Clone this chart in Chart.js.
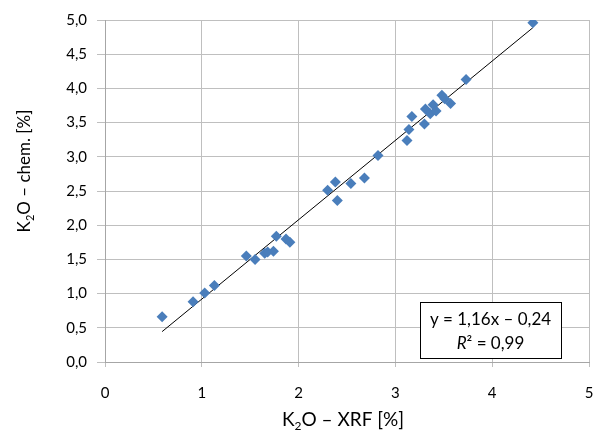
<!DOCTYPE html>
<html>
<head>
<meta charset="utf-8">
<script src="https://cdn.jsdelivr.net/npm/chart.js@4.4.1/dist/chart.umd.min.js"></script>
<style>
html,body{margin:0;padding:0;background:#fff;}
#wrap{width:597px;height:436px;position:relative;}
</style>
</head>
<body>
<div id="wrap"><canvas id="c" width="597" height="436"></canvas></div>
<script>
// ---- data ----
const xrfValues  = [0.59, 0.91, 1.03, 1.13, 1.46, 1.55, 1.65, 1.68, 1.74, 1.77, 1.87, 1.91, 2.30, 2.38, 2.40, 2.54, 2.68, 2.82, 3.12, 3.14, 3.17, 3.30, 3.31, 3.36, 3.39, 3.42, 3.48, 3.51, 3.57, 3.73, 4.42];
const chemValues = [0.66, 0.88, 1.01, 1.12, 1.55, 1.50, 1.59, 1.61, 1.62, 1.84, 1.80, 1.75, 2.51, 2.63, 2.36, 2.61, 2.69, 3.02, 3.24, 3.40, 3.59, 3.48, 3.70, 3.63, 3.76, 3.67, 3.90, 3.85, 3.78, 4.13, 4.96];
const trendSlope = 1.16;
const trendIntercept = -0.24;
const trendX = [0.59, 4.42];
const xTickLabels = ['0', '1', '2', '3', '4', '5'];
const yTickLabels = ['0,0', '0,5', '1,0', '1,5', '2,0', '2,5', '3,0', '3,5', '4,0', '4,5', '5,0'];
const xTitle = ['K', '2', 'O – XRF [%]'];
const yTitle = ['K', '2', 'O – chem. [%]'];
const eqLine1 = 'y = 1,16x – 0,24';
const eqLine2 = ['R', '² = 0,99'];

const FONT = 'Lato, "Open Sans", sans-serif';
const points = xrfValues.map((x, i) => ({x: x, y: chemValues[i]}));
const trend = trendX.map(x => ({x: x, y: trendSlope * x + trendIntercept}));

function drawSubTitle(ctx, parts, size) {
  ctx.font = size + 'px ' + FONT;
  const w0 = ctx.measureText(parts[0]).width;
  ctx.font = Math.round(size * 0.65) + 'px ' + FONT;
  const w1 = ctx.measureText(parts[1]).width;
  ctx.font = size + 'px ' + FONT;
  const w2 = ctx.measureText(parts[2]).width;
  const total = w0 + w1 + w2;
  let x = -total / 2;
  ctx.textBaseline = 'alphabetic';
  ctx.textAlign = 'left';
  ctx.font = size + 'px ' + FONT;
  ctx.fillText(parts[0], x, 0); x += w0;
  ctx.font = Math.round(size * 0.65) + 'px ' + FONT;
  ctx.fillText(parts[1], x, size * 0.22); x += w1;
  ctx.font = size + 'px ' + FONT;
  ctx.fillText(parts[2], x, 0);
}

const extras = {
  id: 'extras',
  afterDraw(chart) {
    const ctx = chart.ctx;
    const area = chart.chartArea;
    ctx.save();
    ctx.fillStyle = '#000';
    // x title
    ctx.save();
    ctx.translate(343, 426);
    drawSubTitle(ctx, xTitle, 19);
    ctx.restore();
    // y title
    ctx.save();
    ctx.translate(30, 171);
    ctx.rotate(-Math.PI / 2);
    drawSubTitle(ctx, yTitle, 17);
    ctx.restore();
    // equation box
    const bx = area.right - 169, by = area.bottom - 60, bw = 141, bh = 56;
    ctx.fillStyle = '#fff';
    ctx.fillRect(bx, by, bw, bh);
    ctx.strokeStyle = '#000';
    ctx.lineWidth = 1;
    ctx.strokeRect(Math.round(bx) + 0.5, Math.round(by) + 0.5, bw, bh);
    ctx.fillStyle = '#000';
    ctx.textBaseline = 'middle';
    ctx.textAlign = 'center';
    ctx.font = '17px ' + FONT;
    const cx = bx + bw / 2;
    ctx.fillText(eqLine1, cx, by + 18);
    ctx.font = 'italic 17px ' + FONT;
    const wR = ctx.measureText(eqLine2[0]).width;
    ctx.font = '17px ' + FONT;
    const wRest = ctx.measureText(eqLine2[1]).width;
    let sx = cx - (wR + wRest) / 2;
    ctx.textAlign = 'left';
    ctx.font = 'italic 17px ' + FONT;
    ctx.fillText(eqLine2[0], sx, by + 42);
    ctx.font = '17px ' + FONT;
    ctx.fillText(eqLine2[1], sx + wR, by + 42);
    ctx.restore();
  }
};

new Chart(document.getElementById('c'), {
  type: 'scatter',
  data: {
    datasets: [
      {
        label: 'K2O',
        data: points,
        pointStyle: 'rectRot',
        pointRadius: 5.5,
        pointHoverRadius: 5.5,
        backgroundColor: '#4a7ebb',
        borderColor: '#4a7ebb',
        borderWidth: 0,
        order: 1
      },
      {
        type: 'line',
        label: 'trend',
        data: trend,
        borderColor: '#000',
        borderWidth: 1,
        pointRadius: 0,
        fill: false,
        order: 2
      }
    ]
  },
  options: {
    responsive: false,
    animation: false,
    layout: {padding: {top: 20, right: 8, left: 0, bottom: 0}},
    plugins: {legend: {display: false}, tooltip: {enabled: false}},
    scales: {
      x: {
        type: 'linear',
        min: 0, max: 5,
        afterFit(s) { s.height = 74; s.paddingLeft = 0; s.paddingRight = 0; },
        ticks: {
          stepSize: 1,
          padding: 17,
          color: '#000',
          font: {family: FONT, size: 15},
          callback: (v, i) => xTickLabels[i]
        },
        grid: {color: '#bfbfbf', tickLength: 5, drawTicks: true},
        border: {color: '#a6a6a6'}
      },
      y: {
        type: 'linear',
        min: 0, max: 5,
        afterFit(s) { s.width = 105; s.paddingTop = 0; s.paddingBottom = 0; },
        ticks: {
          stepSize: 0.5,
          padding: 10,
          color: '#000',
          font: {family: FONT, size: 15},
          callback: (v, i) => yTickLabels[i]
        },
        grid: {color: '#bfbfbf', tickLength: 8, drawTicks: true},
        border: {color: '#a6a6a6'}
      }
    }
  },
  plugins: [extras]
});
</script>
</body>
</html>
